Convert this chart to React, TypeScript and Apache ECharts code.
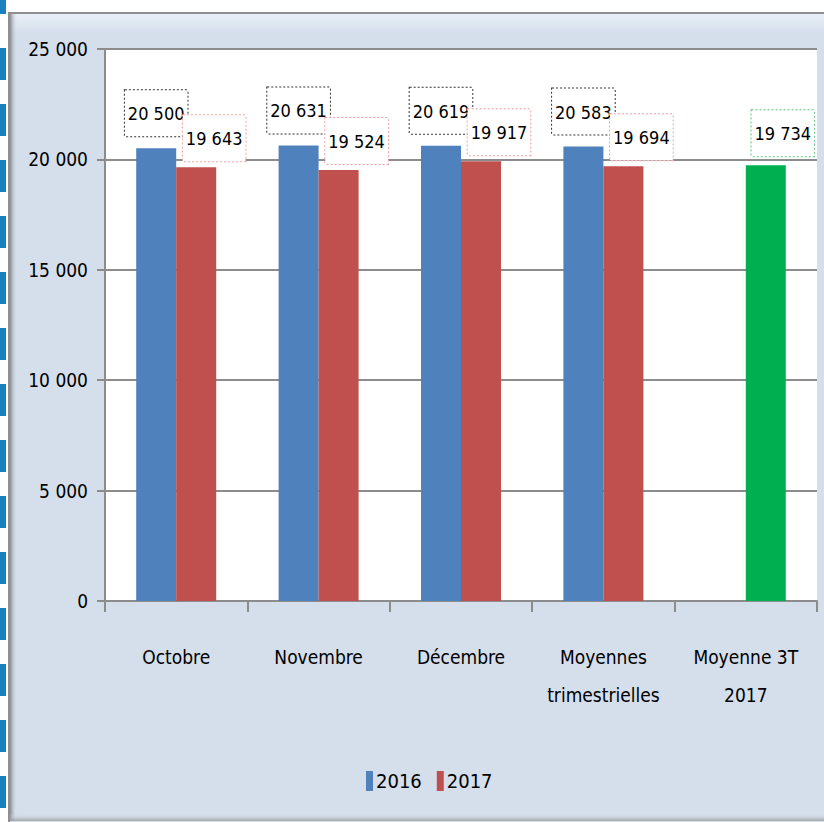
import React, { useEffect, useRef } from "react";
import * as echarts from "echarts";

const categories = ["Octobre", "Novembre", "Décembre", "Moyennes\ntrimestrielles", "Moyenne 3T\n2017"];
const values2016: (number | null)[] = [20500, 20631, 20619, 20583, null];
const values2017: number[] = [19643, 19524, 19917, 19694, 19734];
const yTicks = [0, 5000, 10000, 15000, 20000, 25000];

const FONT = "'DejaVu Sans Condensed', 'Liberation Sans Narrow', 'Liberation Sans', sans-serif";
const fmt = (v: number) => {
  const s = String(Math.round(v));
  return s.replace(/\B(?=(\d{3})+(?!\d))/g, " ");
};

export default function App() {
  const ref = useRef<HTMLDivElement>(null);
  useEffect(() => {
    if (!ref.current) return;
    const chart = echarts.init(ref.current, undefined, { renderer: "svg" });

    const stripe: any[] = [{ type: "rect", shape: { x: 0, y: 0, width: 6, height: 14 }, style: { fill: "#1a80c0" }, z: -20 }];
    for (let y = 48; y < 822; y += 56) {
      stripe.push({ type: "rect", shape: { x: 0, y, width: 6, height: 32 }, style: { fill: "#1a80c0" }, z: -20 });
    }

    const baseLabel = {
      show: true,
      position: "top",
      fontFamily: FONT,
      fontSize: 18,
      lineHeight: 23,
      color: "#000",
      backgroundColor: "#fff",
      borderType: [2, 2],
      borderWidth: 1,
      padding: [12, 3, 11, 3],
      formatter: (p: any) => fmt(p.value),
    };

    chart.setOption({
      animation: false,
      backgroundColor: "#fff",
      textStyle: { fontFamily: FONT },
      graphic: [
        ...stripe,
        {
          type: "rect",
          z: -20,
          shape: { x: 9, y: 13, width: 816, height: 810 },
          style: {
            fill: new echarts.graphic.LinearGradient(0, 0, 0, 1, [
              { offset: 0, color: "#eaf0f7" },
              { offset: 0.025, color: "#d5dfec" },
              { offset: 1, color: "#d5dfec" },
            ]),
            stroke: "#8f8f8f",
            lineWidth: 2,
          },
        },
        {
          type: "rect",
          z: -19,
          shape: { x: 10, y: 14, width: 7, height: 807 },
          style: {
            fill: new echarts.graphic.LinearGradient(0, 0, 1, 0, [
              { offset: 0, color: "rgba(130,130,130,0.9)" },
              { offset: 1, color: "rgba(213,223,236,0)" },
            ]),
          },
        },
        {
          type: "rect",
          z: -19,
          shape: { x: 10, y: 814, width: 814, height: 7 },
          style: {
            fill: new echarts.graphic.LinearGradient(0, 0, 0, 1, [
              { offset: 0, color: "rgba(213,223,236,0)" },
              { offset: 1, color: "rgba(150,150,150,0.8)" },
            ]),
          },
        },
      ],
      grid: {
        left: 105,
        right: 7,
        top: 49,
        bottom: 221,
        show: true,
        backgroundColor: "#fff",
        borderWidth: 0,
      },
      legend: {
        left: 366,
        top: 771,
        padding: 0,
        itemWidth: 7,
        itemHeight: 20,
        itemGap: 15,
        icon: "rect",
        textStyle: { fontFamily: FONT, fontSize: 20, color: "#000", padding: [0, 0, 0, -2] },
        data: ["2016", "2017"],
      },
      xAxis: {
        type: "category",
        data: categories,
        axisLine: { lineStyle: { color: "#8c8c8c", width: 2 } },
        axisTick: { show: true, length: 11, lineStyle: { color: "#8c8c8c", width: 2 } },
        axisLabel: {
          fontFamily: FONT,
          fontSize: 19,
          color: "#000",
          lineHeight: 38,
          margin: 37,
          interval: 0,
        },
      },
      yAxis: {
        type: "value",
        min: yTicks[0],
        max: yTicks[yTicks.length - 1],
        interval: 5000,
        axisLine: { show: true, lineStyle: { color: "#8c8c8c", width: 2 } },
        axisTick: { show: true, length: 8, lineStyle: { color: "#8c8c8c", width: 2 } },
        splitLine: { show: true, lineStyle: { color: "#8c8c8c", width: 2 } },
        axisLabel: {
          fontFamily: FONT,
          fontSize: 19,
          color: "#000",
          margin: 17,
          formatter: (v: number) => fmt(v),
        },
      },
      series: [
        {
          name: "2016",
          type: "bar",
          barWidth: 40,
          barGap: "0%",
          itemStyle: { color: "#4f81bd" },
          label: { ...baseLabel, borderColor: "#333", distance: 12, offset: [0, 0] },
          data: values2016,
        },
        {
          name: "2017",
          type: "bar",
          barWidth: 40,
          barGap: "0%",
          itemStyle: { color: "#c0504d" },
          label: { ...baseLabel, borderColor: "#f0a0a0", distance: 6, offset: [18, 0] },
          data: values2017.map((v, i) =>
            i === values2017.length - 1
              ? {
                  value: v,
                  itemStyle: { color: "#00b050" },
                  label: { borderColor: "#60c080", distance: 9, offset: [17, 0] },
                }
              : v
          ),
        },
      ],
    });
    return () => chart.dispose();
  }, []);
  return <div ref={ref} style={{ width: 824, height: 822, position: "absolute", left: 0, top: 0 }} />;
}
